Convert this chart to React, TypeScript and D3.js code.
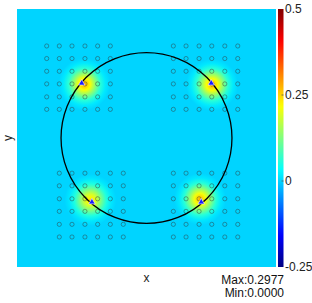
import React from 'react';
import * as d3 from 'd3';

// grid sample points (data coords)
const colsLeftTop = [-1.156, -1.01, -0.863, -0.713, -0.566, -0.419];
const colsLeftBottom = [-1.01, -0.863, -0.713, -0.566, -0.419, -0.269];
const colsRight = [0.311, 0.458, 0.609, 0.756, 0.907, 1.057];
const rowsTop = [1.07, 0.924, 0.776, 0.629, 0.478, 0.333];
const rowsBottom = [-0.409, -0.556, -0.707, -0.853, -1.004, -1.151];

// markers on the circle
const markerX = [-0.751, 0.75, -0.632, 0.634];
const markerY = [0.637, 0.637, -0.745, -0.745];

// heat blobs: centre and peak value
const blobX = [-0.72, 0.76, -0.65, 0.62];
const blobY = [0.625, 0.62, -0.72, -0.71];
const blobPeak = [0.3, 0.3, 0.262, 0.292];
// radial profile of the blobs (fraction of radius -> fraction of peak)
const profileOffset = [0, 0.08, 0.22, 0.42, 0.62, 0.82, 1];
const profileValue = [1, 0.86, 0.72, 0.45, 0.2, 0.05, 0];

const circleR = 0.99;
const cbarTicks = [0.5, 0.25, 0, -0.25];
const cbarLabels = ['0.5', '0.25', '0', '-0.25'];
const maxText = 'Max:0.2977';
const minText = 'Min:0.0000';

function jet(v: number) {
  const t = (v - -0.25) / 0.75;
  const c = (x: number) => Math.max(0, Math.min(1, x));
  const r = c(1.5 - Math.abs(4 * t - 3));
  const g = c(1.5 - Math.abs(4 * t - 2));
  const b = c(1.5 - Math.abs(4 * t - 1));
  return d3.rgb(r * 255, g * 255, b * 255).formatHex();
}

export default function App() {
  const W = 312, H = 303;
  const left = 17, right = 276, top = 9, bottom = 267;
  const x = d3.scaleLinear().domain([-1.5, 1.5]).range([left, right]);
  const y = d3.scaleLinear().domain([-1.5, 1.5]).range([bottom, top]);
  const cb = d3.scaleLinear().domain([-0.25, 0.5]).range([bottom, top]);
  const blobR = 0.3;
  const k = x(1) - x(0);

  const groups: [number[], number[]][] = [
    [colsLeftTop, rowsTop],
    [colsRight, rowsTop],
    [colsLeftBottom, rowsBottom],
    [colsRight, rowsBottom],
  ];
  const pts: [number, number][] = [];
  groups.forEach(([cs, rs]) => rs.forEach(r => cs.forEach(c => pts.push([c, r]))));

  const cbStops = d3.range(0, 1.0001, 0.02);

  return (
    <svg width={W} height={H} style={{ position: 'absolute', left: 0, top: 0 }}
      fontFamily="Liberation Sans, Arial, sans-serif">
      <defs>
        {blobPeak.map((p, i) => (
          <radialGradient key={i} id={'blob' + i}>
            {profileOffset.map((o, j) => (
              <stop key={j} offset={o} stopColor={jet(p * profileValue[j])} />
            ))}
          </radialGradient>
        ))}
        <linearGradient id="cbar" x1="0" y1="1" x2="0" y2="0">
          {cbStops.map((t, i) => (
            <stop key={i} offset={t} stopColor={jet(-0.25 + t * 0.75)} />
          ))}
        </linearGradient>
        <clipPath id="plotclip">
          <rect x={left} y={top} width={right - left} height={bottom - top} />
        </clipPath>
      </defs>
      <rect width={W} height={H} fill="#fff" />
      <rect x={left} y={top} width={right - left} height={bottom - top} fill={jet(0)} />
      <g clipPath="url(#plotclip)">
        {blobX.map((bx, i) => (
          <circle key={i} cx={x(bx)} cy={y(blobY[i])} r={blobR * k} fill={`url(#blob${i})`} />
        ))}
        {pts.map(([px, py], i) => (
          <circle key={i} cx={x(px)} cy={y(py)} r={2.1} fill="none" stroke="#333"
            strokeOpacity={0.6} strokeWidth={0.75} />
        ))}
        <circle cx={x(0)} cy={y(0)} r={circleR * k} fill="none" stroke="#000" strokeWidth={1.3} />
        {markerX.map((mx, i) => {
          const cx = x(mx), cy = y(markerY[i]);
          const p = d3.symbol(d3.symbolTriangle, 18)();
          return (
            <path key={i} d={p || ''} transform={`translate(${cx},${cy})`}
              fill="#1a1aff" stroke="#fff" strokeWidth={0.6} />
          );
        })}
      </g>
      <rect x={278} y={top} width={5.5} height={bottom - top} fill="url(#cbar)" />
      {cbarTicks.map((t, i) => (
        <g key={i}>
          {i > 0 && i < 3 && (
            <line x1={281.5} x2={283.5} y1={cb(t)} y2={cb(t)} stroke="#555" strokeWidth={0.8} />
          )}
          <text x={285} y={cb(t)} dy="0.36em" fontSize={12} fill="#222">{cbarLabels[i]}</text>
        </g>
      ))}
      <text x={x(0)} y={281.5} textAnchor="middle" fontSize={12} fill="#222">x</text>
      <text transform={`translate(12,${y(0)}) rotate(-90)`} textAnchor="middle" fontSize={12} fill="#222">y</text>
      <text x={284} y={284} textAnchor="end" fontSize={12} fill="#111">{maxText}</text>
      <text x={284} y={297} textAnchor="end" fontSize={12} fill="#111">{minText}</text>
    </svg>
  );
}
